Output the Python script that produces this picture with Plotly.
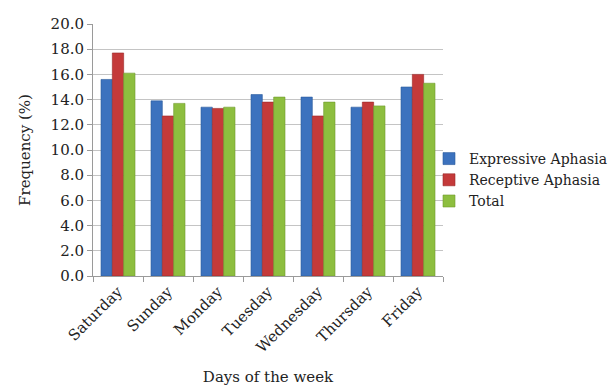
import plotly.graph_objects as go

# Weekly distribution of aphasia types (%)
days = ["Saturday", "Sunday", "Monday", "Tuesday", "Wednesday", "Thursday", "Friday"]
expressive = [15.6, 13.9, 13.4, 14.4, 14.2, 13.4, 15.0]
receptive = [17.7, 12.7, 13.3, 13.8, 12.7, 13.8, 16.0]
total = [16.1, 13.7, 13.4, 14.2, 13.8, 13.5, 15.3]

font_family = "DejaVu Serif"
text_color = "#222222"

series = [
    ("Expressive Aphasia", expressive, "#3C72BE", "#2A5A9C"),
    ("Receptive Aphasia", receptive, "#C43A3A", "#9A2A2A"),
    ("Total", total, "#8DBE3F", "#6E9A2C"),
]

fig = go.Figure()
for name, vals, col, edge in series:
    fig.add_trace(go.Bar(
        x=days, y=vals, name=name,
        marker=dict(color=col, line=dict(color=edge, width=0.6)),
    ))

# Plot area spans 350 px of the 519 px paper width; legend sits to its right.
fig.update_layout(
    width=612, height=388, autosize=False,
    margin=dict(l=93, r=0, t=24, b=112),
    paper_bgcolor="white", plot_bgcolor="white",
    barmode="group", bargap=0.32, bargroupgap=0,
    font=dict(family=font_family, size=14, color=text_color),
    legend=dict(
        x=1.0, y=0.381, xanchor="right", yanchor="middle",
        font=dict(family=font_family, size=14, color=text_color),
        itemwidth=30, tracegroupgap=0, bgcolor="rgba(0,0,0,0)",
    ),
    xaxis=dict(
        domain=[0, 350 / 519], automargin=False,
        title=dict(text="Days of the week", font=dict(size=15), standoff=16),
        tickangle=-45, ticks="outside", tickson="boundaries", ticklen=5,
        tickcolor="#9a9a9a", showline=True, linecolor="#9a9a9a", linewidth=1,
        tickfont=dict(size=15),
    ),
    yaxis=dict(
        automargin=False,
        title=dict(text="Frequency (%)", font=dict(size=15), standoff=16),
        range=[0, 20], dtick=2, tickformat=".1f",
        ticks="outside", ticklen=5, tickcolor="#9a9a9a",
        showline=True, linecolor="#9a9a9a", linewidth=1,
        showgrid=True, gridcolor="#c4c4c4", gridwidth=1,
        tickfont=dict(size=15), zeroline=False,
    ),
)

fig.write_html("out.html")
